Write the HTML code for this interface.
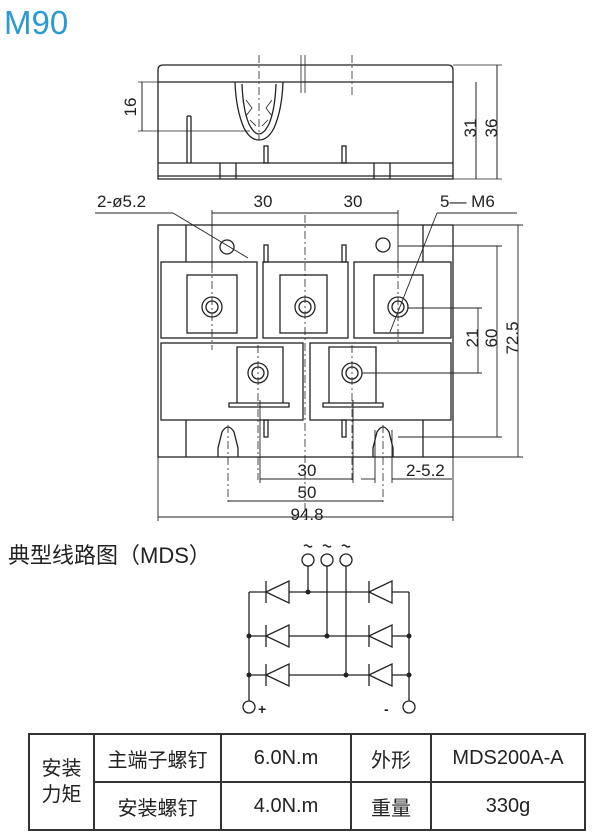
<!DOCTYPE html>
<html><head><meta charset="utf-8"><style>
body{margin:0;background:#fff;width:600px;height:838px;overflow:hidden;position:relative;font-family:"Liberation Sans","Noto Sans CJK SC",sans-serif}
svg{position:absolute;left:0;top:0}
table{position:absolute;left:28px;top:733px;border-collapse:collapse;font-size:20px;color:#222}
td{border:2px solid #333;text-align:center;padding:0;height:46px}
</style></head><body>
<svg width="600" height="838" viewBox="0 0 600 838" font-family="Liberation Sans, Noto Sans CJK SC, sans-serif">
<text x="4" y="34" font-size="33" fill="#2a9ad4">M90</text>
<g stroke="#222" stroke-width="1.3" fill="none">
<path d="M158,179 V70 Q158,65 163,65 H448 Q453,65 453,70 V179 Z"/>
<line x1="158" y1="82" x2="453" y2="82"/>
<line x1="158" y1="163" x2="453" y2="163"/>
<line x1="158" y1="176" x2="453" y2="176"/>
<path d="M235,82 Q236,110 244,128 Q250,140 259,140 Q268,140 274,128 Q282,110 283,82"/>
<path d="M242,84 Q243,110 249,124 Q254,134 259,134 Q264,134 269,124 Q275,110 276,84"/>
<path d="M246,100 L252,108 L246,116 M272,100 L266,108 L272,116 M250,120 L256,126 M268,120 L262,126" stroke-width="0.8"/>
<line x1="187" y1="116" x2="187" y2="163"/><line x1="191" y1="116" x2="191" y2="163"/><line x1="187" y1="116" x2="191" y2="116"/>
<rect x="264" y="146" width="4" height="17"/><rect x="342" y="146" width="4" height="17"/>
<line x1="220" y1="163" x2="220" y2="179"/><line x1="236" y1="163" x2="236" y2="179"/>
<line x1="374" y1="163" x2="374" y2="179"/><line x1="390" y1="163" x2="390" y2="179"/>
<path d="M301,55 V93 M305,55 V93" stroke-width="0.8"/>
<line x1="259" y1="55" x2="259" y2="140" stroke-dasharray="8,3,2,3" stroke-width="0.8"/>
<line x1="352" y1="55" x2="352" y2="95" stroke-dasharray="8,3,2,3" stroke-width="0.8"/>
<line x1="142" y1="82" x2="142" y2="131" stroke-width="1"/>
<line x1="138" y1="82" x2="235" y2="82" stroke-width="0.8"/><line x1="138" y1="131" x2="250" y2="131" stroke-width="0.8"/>
<line x1="476" y1="82" x2="476" y2="179" stroke-width="1"/>
<line x1="497" y1="65" x2="497" y2="179" stroke-width="1"/>
<line x1="453" y1="65" x2="502" y2="65" stroke-width="0.8"/><line x1="453" y1="179" x2="502" y2="179" stroke-width="0.8"/>
<rect x="158" y="225" width="295" height="232"/>
<rect x="161" y="262" width="96" height="76"/><rect x="263" y="262" width="85" height="76"/><rect x="354" y="262" width="97" height="76"/>
<rect x="187" y="275" width="50" height="58"/><rect x="280" y="275" width="47" height="58"/><rect x="374" y="275" width="49" height="58"/>
<rect x="161" y="343" width="142" height="77"/><rect x="310" y="343" width="141" height="77"/>
<path d="M237,403 V347 H283 V403 M229,403 H289 V407 H229 Z"/>
<path d="M329,403 V347 H376 V403 M323,403 H383 V407 H323 Z"/>
<circle cx="212" cy="307" r="10"/><circle cx="212" cy="307" r="6"/>
<circle cx="305" cy="307" r="10"/><circle cx="305" cy="307" r="6"/>
<circle cx="398" cy="307" r="10"/><circle cx="398" cy="307" r="6"/>
<circle cx="258" cy="373" r="10"/><circle cx="258" cy="373" r="6"/>
<circle cx="352" cy="373" r="10"/><circle cx="352" cy="373" r="6"/>
<circle cx="227" cy="247" r="7"/><circle cx="383" cy="245" r="7"/>
<rect x="264" y="245" width="4" height="17"/><rect x="342" y="245" width="4" height="17"/>
<rect x="264" y="420" width="4" height="17"/><rect x="342" y="420" width="4" height="17"/>
<line x1="186" y1="225" x2="186" y2="262"/><line x1="423" y1="225" x2="423" y2="262"/>
<line x1="186" y1="420" x2="186" y2="457"/><line x1="423" y1="420" x2="423" y2="457"/>
<path d="M218,457 V448 Q220,440 222,432 Q228,422 234,432 Q236,440 238,448 V457"/>
<path d="M373,457 V448 Q375,440 377,432 Q383,422 389,432 Q391,440 393,448 V457"/>
<g stroke-width="0.8" stroke-dasharray="8,3,2,3">
<line x1="212" y1="265" x2="212" y2="350"/><line x1="305" y1="215" x2="305" y2="520"/><line x1="398" y1="265" x2="398" y2="345"/>
<line x1="258" y1="345" x2="258" y2="480"/><line x1="352" y1="345" x2="352" y2="480"/>
<line x1="228" y1="425" x2="228" y2="505"/><line x1="383" y1="425" x2="383" y2="505"/>
</g>
<g stroke-width="0.9">
<line x1="212" y1="213" x2="398" y2="213"/><line x1="212" y1="210" x2="212" y2="268"/><line x1="398" y1="210" x2="398" y2="268"/>
<line x1="95" y1="213" x2="173" y2="213"/><line x1="173" y1="213" x2="248" y2="258"/>
<line x1="437" y1="213" x2="517" y2="213"/><line x1="437" y1="213" x2="390" y2="332"/>
<line x1="408" y1="308" x2="482" y2="308"/><line x1="362" y1="373" x2="482" y2="373"/><line x1="478" y1="308" x2="478" y2="373"/>
<line x1="398" y1="246" x2="502" y2="246"/><line x1="398" y1="437" x2="502" y2="437"/><line x1="497" y1="246" x2="497" y2="437"/>
<line x1="453" y1="225" x2="523" y2="225"/><line x1="453" y1="457" x2="523" y2="457"/><line x1="518" y1="225" x2="518" y2="457"/>
<line x1="260" y1="479" x2="353" y2="479"/><line x1="260" y1="400" x2="260" y2="483"/><line x1="353" y1="400" x2="353" y2="483"/>
<line x1="228" y1="501" x2="383" y2="501"/>
<line x1="158" y1="457" x2="158" y2="521"/><line x1="453" y1="457" x2="453" y2="521"/><line x1="158" y1="517" x2="453" y2="517"/>
<line x1="361" y1="479" x2="375" y2="479"/><line x1="392" y1="479" x2="452" y2="479"/>
<line x1="375" y1="430" x2="375" y2="483"/><line x1="392" y1="430" x2="392" y2="483"/>
</g>
</g>
<g font-size="17" fill="#222">
<text x="130" y="113" transform="rotate(-90 130 107)" text-anchor="middle">16</text>
<text x="470" y="134" transform="rotate(-90 470 128)" text-anchor="middle">31</text>
<text x="491" y="134" transform="rotate(-90 491 128)" text-anchor="middle">36</text>
<text x="97" y="207">2-ø5.2</text>
<text x="263" y="207" text-anchor="middle">30</text>
<text x="353" y="207" text-anchor="middle">30</text>
<text x="440" y="207">5— M6</text>
<text x="472" y="344" transform="rotate(-90 472 338)" text-anchor="middle">21</text>
<text x="491" y="344" transform="rotate(-90 491 338)" text-anchor="middle">60</text>
<text x="512" y="344" transform="rotate(-90 512 338)" text-anchor="middle">72.5</text>
<text x="307" y="476" text-anchor="middle">30</text>
<text x="307" y="498" text-anchor="middle">50</text>
<text x="307" y="520" text-anchor="middle">94.8</text>
<text x="406" y="476">2-5.2</text>
</g>
<text x="8" y="563" font-size="22" fill="#222">典型线路图（MDS）</text>
<g stroke="#222" stroke-width="1.3" fill="none">
<circle cx="308" cy="560" r="6"/><circle cx="327" cy="560" r="6"/><circle cx="346" cy="560" r="6"/>
<circle cx="249" cy="707" r="6"/><circle cx="409" cy="707" r="6"/>
<line x1="249" y1="592" x2="409" y2="592"/><line x1="249" y1="636" x2="409" y2="636"/><line x1="249" y1="675" x2="409" y2="675"/>
<line x1="249" y1="592" x2="249" y2="701"/><line x1="409" y1="592" x2="409" y2="701"/>
<line x1="308" y1="566" x2="308" y2="592"/><line x1="327" y1="566" x2="327" y2="636"/><line x1="346" y1="566" x2="346" y2="675"/>
<g fill="#fff">
<path d="M266,592 L289,581 V603 Z"/><path d="M266,636 L289,625 V647 Z"/><path d="M266,675 L289,664 V686 Z"/>
<path d="M369,592 L392,581 V603 Z"/><path d="M369,636 L392,625 V647 Z"/><path d="M369,675 L392,664 V686 Z"/>
</g>
<path d="M266,581 V603 M266,625 V647 M266,664 V686 M369,581 V603 M369,625 V647 M369,664 V686"/>
<path d="M304,546 q2,-2 4,0 t4,0 M323,546 q2,-2 4,0 t4,0 M342,546 q2,-2 4,0 t4,0" stroke-width="1.5"/>
</g>
<g fill="#222">
<circle cx="308" cy="592" r="2.5"/><circle cx="327" cy="636" r="2.5"/><circle cx="346" cy="675" r="2.5"/>
<circle cx="249" cy="636" r="2.5"/><circle cx="249" cy="675" r="2.5"/><circle cx="409" cy="636" r="2.5"/><circle cx="409" cy="675" r="2.5"/>
<text x="258" y="714" font-size="14" font-weight="bold">+</text><text x="384" y="714" font-size="14" font-weight="bold">-</text>
</g>
</svg>
<table>
<tr><td rowspan="2" style="width:63px;line-height:26px">安装<br>力矩</td><td style="width:125px">主端子螺钉</td><td style="width:128px">6.0N.m</td><td style="width:78px">外形</td><td style="width:152px">MDS200A-A</td></tr>
<tr><td>安装螺钉</td><td>4.0N.m</td><td>重量</td><td>330g</td></tr>
</table>
</body></html>
